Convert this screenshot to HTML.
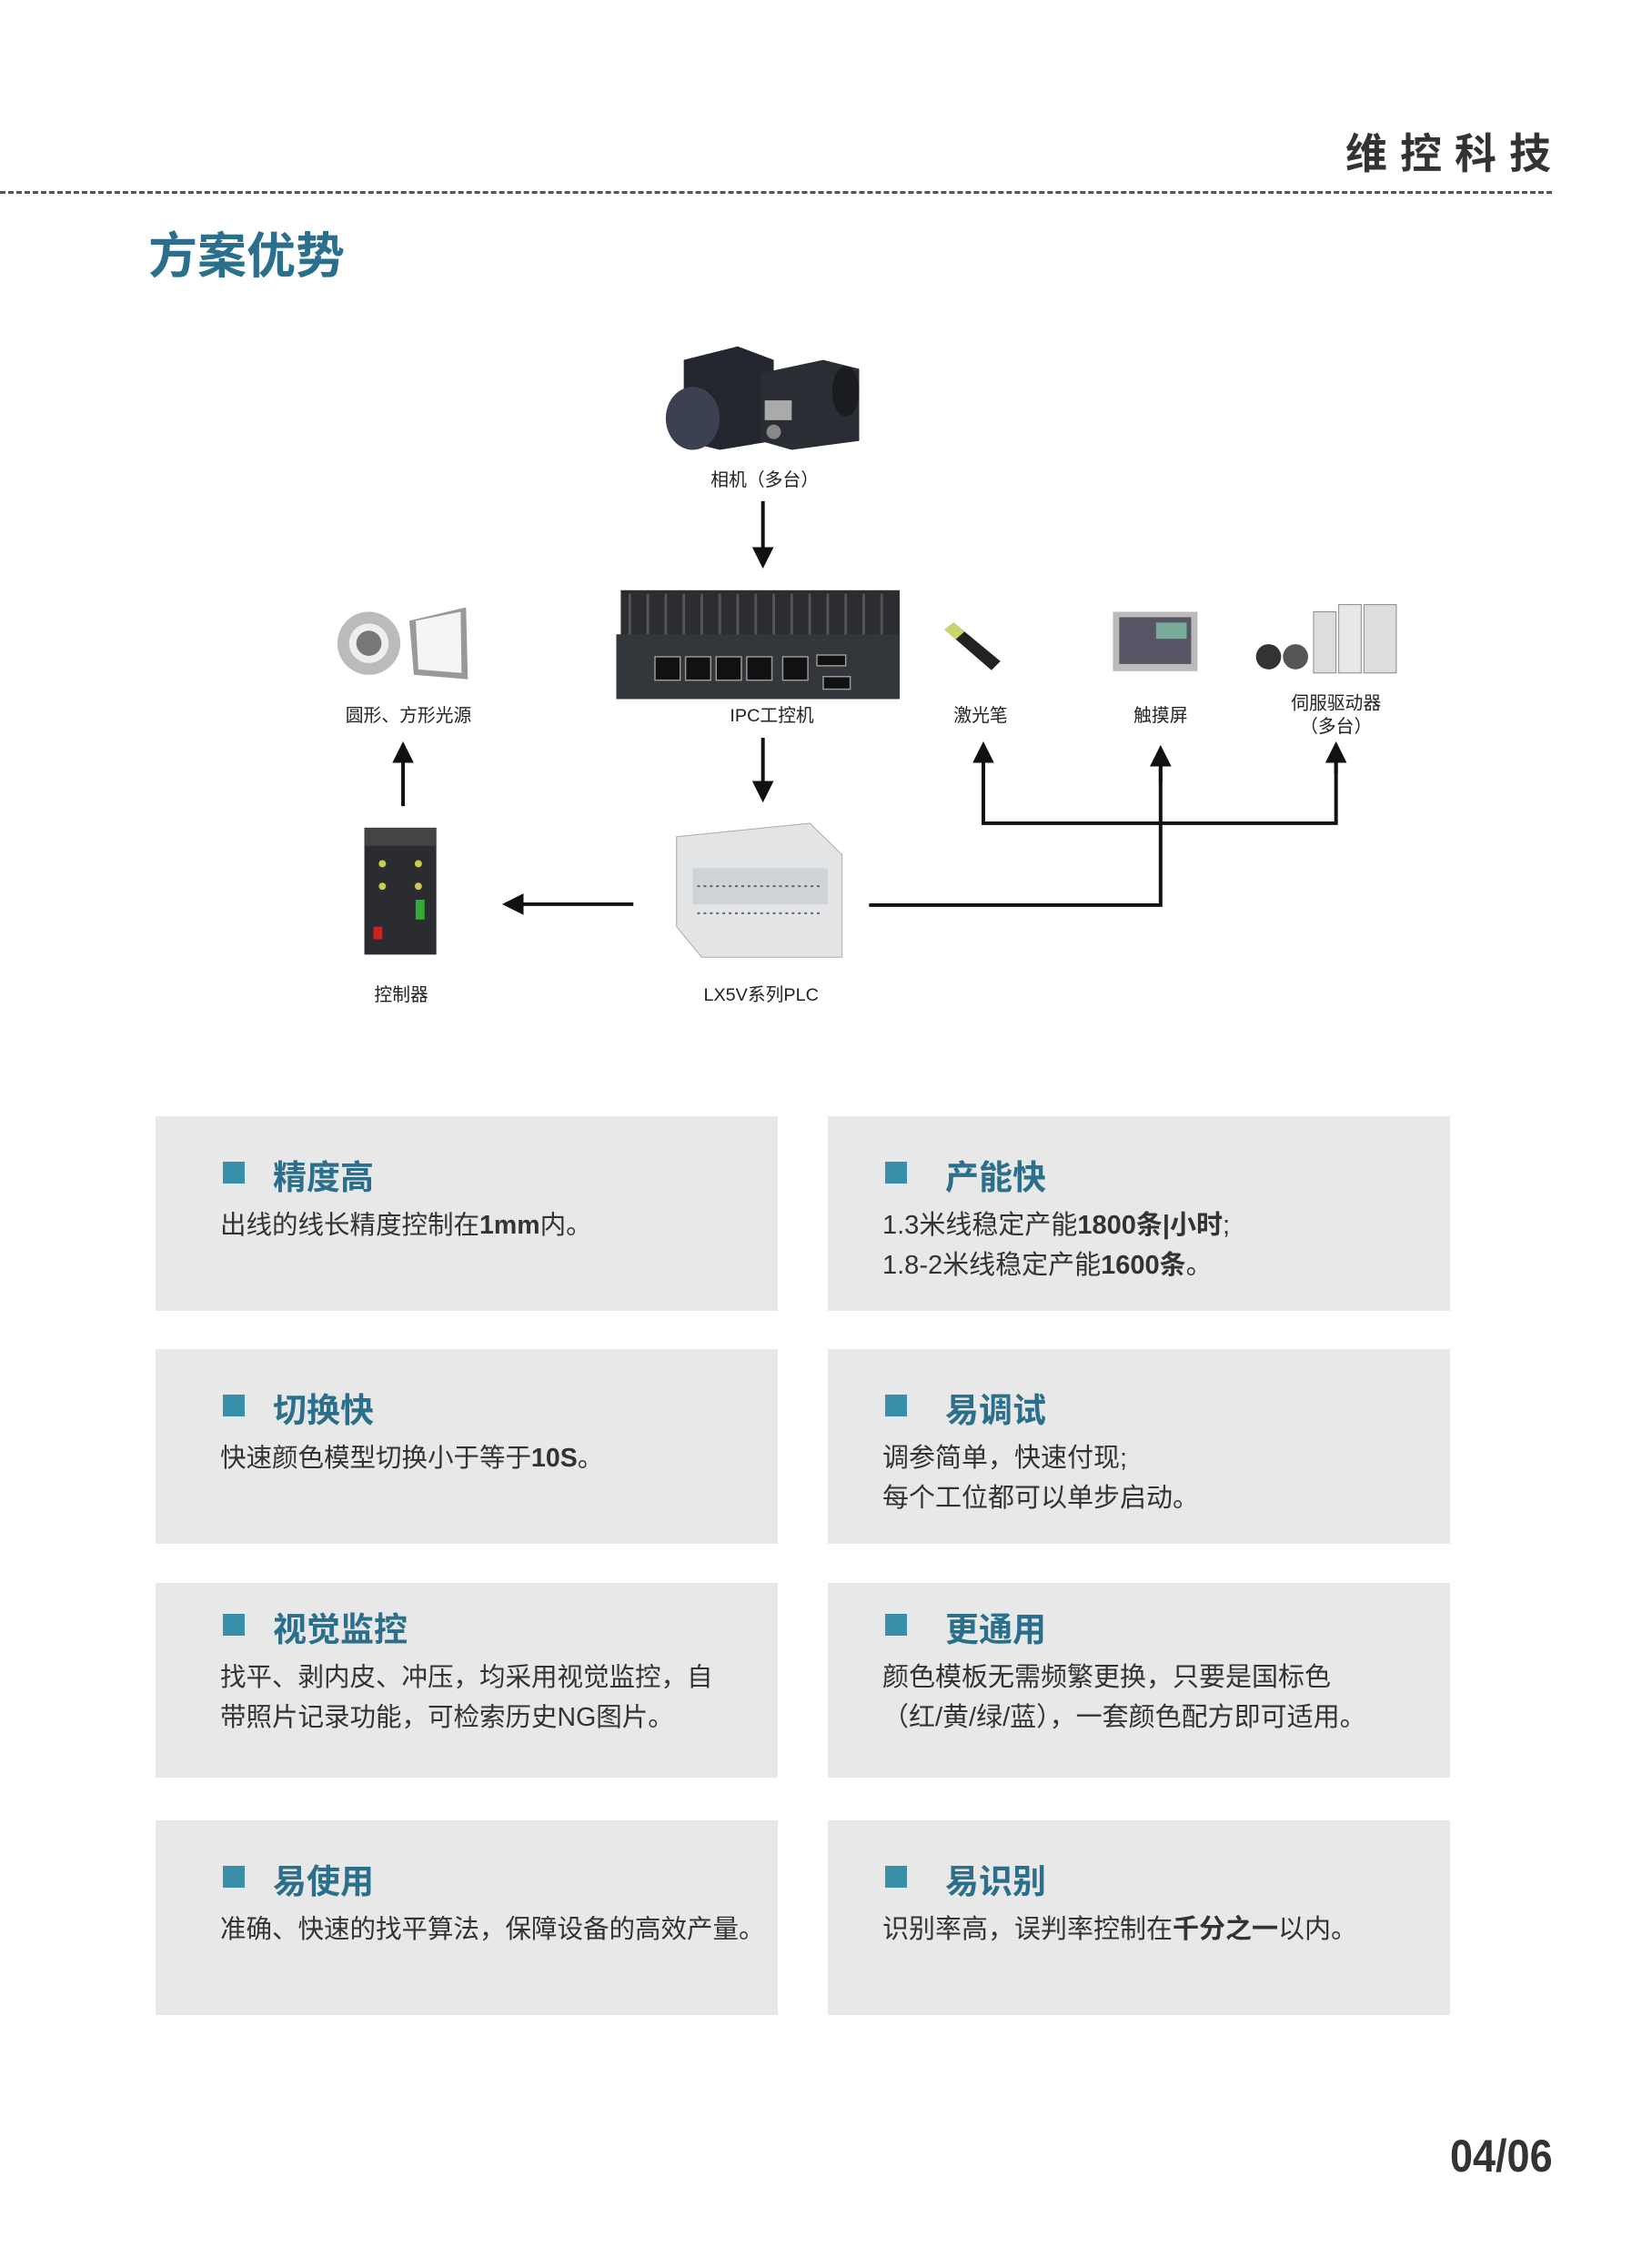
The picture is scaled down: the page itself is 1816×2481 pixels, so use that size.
<!DOCTYPE html>
<html><head><meta charset="utf-8"><style>
body{margin:0;width:1816px;height:2481px;background:#fff;position:relative;overflow:hidden;font-family:"Liberation Sans","Noto Sans CJK SC",sans-serif;}
.a{position:absolute;}
.lbl{position:absolute;font-size:20px;color:#222;transform:translateX(-50%);white-space:nowrap;text-align:center;line-height:26px;}
.card{position:absolute;background:#e8e8e8;width:684px;height:214px;}
.card .sq{position:absolute;left:74px;top:50px;width:24px;height:24px;background:#3a8fa8;}
.card .tt{position:absolute;left:129px;top:37px;font-size:37px;font-weight:bold;color:#2a6f8c;}
.card .b{position:absolute;left:71px;top:98px;font-size:28.5px;color:#333;line-height:44px;white-space:nowrap;}
.r .sq{left:63px;}
.r .b{left:60px;font-size:29px;}
#dg{position:absolute;left:0;top:0;width:1816px;height:1200px;transform:scale(0.989);transform-origin:0 0;}
</style></head><body>
<div class="a" style="left:1479px;top:133px;font-size:46px;font-weight:bold;color:#333;letter-spacing:14px;">维控科技</div>
<div class="a" style="left:0;top:210px;width:1706px;border-top:3px dashed #555;"></div>
<div class="a" style="left:163px;top:237px;font-size:54px;font-weight:bold;color:#2a6f8c;">方案优势</div>

<div id="dg">
<svg class="a" style="left:0;top:0" width="1816" height="1200">
<defs><marker id="ah" markerWidth="6" markerHeight="6" refX="3" refY="3" orient="auto" markerUnits="strokeWidth"><path d="M0,0 L6,3 L0,6 z" fill="#111"/></marker></defs>
<g stroke="#111" stroke-width="4" fill="none">
<line x1="848" y1="557" x2="848" y2="620" marker-end="url(#ah)"/>
<line x1="848" y1="820" x2="848" y2="880" marker-end="url(#ah)"/>
<line x1="704" y1="1005" x2="570" y2="1005" marker-end="url(#ah)"/>
<line x1="448" y1="896" x2="448" y2="836" marker-end="url(#ah)"/>
<polyline points="966,1006 1290,1006 1290,840"/>
<line x1="1290" y1="870" x2="1290" y2="840" marker-end="url(#ah)"/>
<polyline points="1093,836 1093,915 1485,915 1485,836"/>
<line x1="1093" y1="860" x2="1093" y2="836" marker-end="url(#ah)"/>
<line x1="1485" y1="860" x2="1485" y2="836" marker-end="url(#ah)"/>
</g>
<g>
<polygon points="760,400 820,385 860,400 860,490 800,500 760,490" fill="#23262c"/>
<ellipse cx="770" cy="465" rx="30" ry="35" fill="#3b4150"/>
<polygon points="845,415 915,400 955,410 955,490 880,500 845,490" fill="#2a2d33"/>
<rect x="850" y="445" width="30" height="22" fill="#aaa"/>
<circle cx="860" cy="480" r="8" fill="#888"/>
<ellipse cx="940" cy="435" rx="15" ry="28" fill="#1a1c20"/>
</g>
<rect x="690" y="656" width="310" height="60" fill="#2b2d31"/>
<g stroke="#555" stroke-width="3">
<line x1="700" y1="660" x2="700" y2="712"/><line x1="720" y1="660" x2="720" y2="712"/><line x1="740" y1="660" x2="740" y2="712"/><line x1="760" y1="660" x2="760" y2="712"/><line x1="780" y1="660" x2="780" y2="712"/><line x1="800" y1="660" x2="800" y2="712"/><line x1="820" y1="660" x2="820" y2="712"/><line x1="840" y1="660" x2="840" y2="712"/><line x1="860" y1="660" x2="860" y2="712"/><line x1="880" y1="660" x2="880" y2="712"/><line x1="900" y1="660" x2="900" y2="712"/><line x1="920" y1="660" x2="920" y2="712"/><line x1="940" y1="660" x2="940" y2="712"/><line x1="960" y1="660" x2="960" y2="712"/><line x1="980" y1="660" x2="980" y2="712"/></g>
<rect x="685" y="705" width="315" height="72" fill="#33363b"/>
<g fill="#111" stroke="#999" stroke-width="1.5">
<rect x="728" y="730" width="28" height="26"/><rect x="762" y="730" width="28" height="26"/><rect x="796" y="730" width="28" height="26"/><rect x="830" y="730" width="28" height="26"/>
<rect x="870" y="730" width="28" height="26"/><rect x="908" y="728" width="32" height="12"/><rect x="915" y="752" width="30" height="14"/></g>
<circle cx="410" cy="715" r="35" fill="#bbb"/><circle cx="410" cy="715" r="22" fill="#eee"/><circle cx="410" cy="715" r="14" fill="#777"/>
<polygon points="455,690 518,675 520,755 460,750" fill="#999"/><polygon points="462,690 512,680 513,748 465,744" fill="#f5f5f5"/>
<polygon points="1050,700 1060,692 1112,735 1102,745" fill="#222"/><polygon points="1050,700 1060,692 1072,702 1062,711" fill="#cbd36a"/>
<rect x="1237" y="680" width="94" height="66" fill="#bbb"/><rect x="1244" y="686" width="80" height="52" fill="#556"/><rect x="1285" y="692" width="34" height="18" fill="#7a9"/>
<circle cx="1410" cy="730" r="14" fill="#333"/><circle cx="1440" cy="730" r="14" fill="#555"/>
<rect x="1460" y="680" width="25" height="68" fill="#ddd" stroke="#888"/><rect x="1488" y="672" width="25" height="76" fill="#e8e8e8" stroke="#888"/><rect x="1516" y="672" width="36" height="76" fill="#ddd" stroke="#888"/>
<rect x="405" y="920" width="80" height="141" fill="#2a2c30"/><rect x="405" y="920" width="80" height="20" fill="#444"/>
<g fill="#cc5"><circle cx="425" cy="960" r="4"/><circle cx="465" cy="960" r="4"/><circle cx="425" cy="985" r="4"/><circle cx="465" cy="985" r="4"/></g>
<rect x="462" y="1000" width="10" height="22" fill="#3a3"/><rect x="415" y="1030" width="10" height="14" fill="#c22"/>
<polygon points="752,930 900,915 936,950 936,1064 780,1064 752,1030" fill="#e2e4e6" stroke="#aaa"/>
<rect x="770" y="965" width="150" height="40" fill="#cfd2d6"/>
<g stroke="#666" stroke-width="2"><line x1="775" y1="985" x2="915" y2="985" stroke-dasharray="3 4"/><line x1="775" y1="1015" x2="915" y2="1015" stroke-dasharray="3 4"/></g>
</svg>
<div class="lbl" style="left:850px;top:521px;">相机（多台）</div>
<div class="lbl" style="left:858px;top:783px;">IPC工控机</div>
<div class="lbl" style="left:454px;top:783px;">圆形、方形光源</div>
<div class="lbl" style="left:1090px;top:783px;">激光笔</div>
<div class="lbl" style="left:1290px;top:783px;">触摸屏</div>
<div class="lbl" style="left:1485px;top:769px;">伺服驱动器<br>（多台）</div>
<div class="lbl" style="left:446px;top:1093px;">控制器</div>
<div class="lbl" style="left:846px;top:1093px;">LX5V系列PLC</div>
</div>

<div class="card" style="left:171px;top:1227px"><div class="sq"></div><div class="tt">精度高</div><div class="b">出线的线长精度控制在<b>1mm</b>内。</div></div>
<div class="card r" style="left:910px;top:1227px"><div class="sq"></div><div class="tt">产能快</div><div class="b">1.3米线稳定产能<b>1800条|小时</b>;<br>1.8-2米线稳定产能<b>1600条</b>。</div></div>
<div class="card" style="left:171px;top:1483px"><div class="sq"></div><div class="tt">切换快</div><div class="b">快速颜色模型切换小于等于<b>10S</b>。</div></div>
<div class="card r" style="left:910px;top:1483px"><div class="sq"></div><div class="tt">易调试</div><div class="b">调参简单，快速付现;<br>每个工位都可以单步启动。</div></div>
<div class="card" style="left:171px;top:1740px"><div class="sq" style="top:34px"></div><div class="tt" style="top:21px">视觉监控</div><div class="b" style="top:82px">找平、剥内皮、冲压，均采用视觉监控，自<br>带照片记录功能，可检索历史NG图片。</div></div>
<div class="card r" style="left:910px;top:1740px"><div class="sq" style="top:34px"></div><div class="tt" style="top:21px">更通用</div><div class="b" style="top:82px">颜色模板无需频繁更换，只要是国标色<br>（红/黄/绿/蓝），一套颜色配方即可适用。</div></div>
<div class="card" style="left:171px;top:2001px"><div class="sq"></div><div class="tt">易使用</div><div class="b">准确、快速的找平算法，保障设备的高效产量。</div></div>
<div class="card r" style="left:910px;top:2001px"><div class="sq"></div><div class="tt">易识别</div><div class="b">识别率高，误判率控制在<b>千分之一</b>以内。</div></div>

<div class="a" style="left:1594px;top:2341px;font-size:50px;font-weight:bold;color:#333;transform:scaleX(0.9);transform-origin:left;">04/06</div>
</body></html>
